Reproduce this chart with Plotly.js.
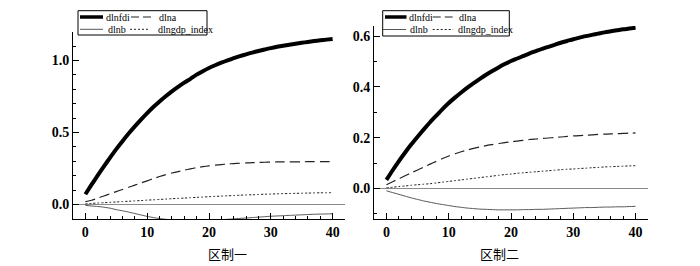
<!DOCTYPE html>
<html>
<head>
<meta charset="utf-8">
<script src="https://cdn.plot.ly/plotly-3.0.1.min.js"></script>
<style>html,body{margin:0;padding:0;background:#fff;}#chart{width:700px;height:266px;}</style>
</head>
<body>
<div id="chart"></div>
<script>
// ---- data ----
const periods = Array.from({length: 41}, (_, i) => i);
const seriesNames = ['dlnfdi', 'dlna', 'dlnb', 'dlngdp_index'];
const panelTitles = ['区制一', '区制二'];

// Regime 1
const r1_dlnfdi = [0.072,0.138,0.202,0.265,0.326,0.385,0.44,0.493,0.543,0.59,0.635,0.677,0.716,0.752,0.786,0.817,0.846,0.873,0.902,0.926,0.948,0.967,0.985,1.001,1.016,1.03,1.043,1.055,1.066,1.076,1.086,1.095,1.103,1.11,1.117,1.123,1.129,1.135,1.14,1.145,1.15];
const r1_dlna = [0.02,0.03,0.045,0.06,0.075,0.09,0.105,0.12,0.135,0.15,0.165,0.18,0.195,0.208,0.219,0.229,0.239,0.248,0.256,0.263,0.269,0.274,0.278,0.282,0.285,0.287,0.289,0.291,0.293,0.294,0.295,0.296,0.296,0.297,0.297,0.297,0.298,0.298,0.298,0.298,0.298];
const r1_dlnb = [-0.005,-0.01,-0.013,-0.018,-0.025,-0.035,-0.043,-0.052,-0.062,-0.072,-0.082,-0.09,-0.097,-0.102,-0.106,-0.108,-0.11,-0.11,-0.11,-0.109,-0.108,-0.106,-0.104,-0.102,-0.099,-0.096,-0.093,-0.09,-0.087,-0.084,-0.081,-0.079,-0.077,-0.075,-0.073,-0.071,-0.069,-0.067,-0.066,-0.065,-0.064];
const r1_dlngdp = [0.005,0.008,0.011,0.013,0.016,0.018,0.021,0.023,0.026,0.028,0.031,0.033,0.036,0.038,0.041,0.043,0.045,0.048,0.050,0.052,0.055,0.057,0.059,0.061,0.063,0.065,0.067,0.068,0.070,0.072,0.073,0.075,0.076,0.077,0.078,0.079,0.080,0.081,0.082,0.082,0.083];

// Regime 2
const r2_dlnfdi = [0.034,0.072,0.108,0.142,0.174,0.204,0.233,0.261,0.287,0.313,0.337,0.358,0.378,0.397,0.415,0.432,0.448,0.463,0.477,0.49,0.502,0.512,0.522,0.532,0.541,0.55,0.558,0.566,0.574,0.581,0.588,0.594,0.6,0.605,0.61,0.615,0.619,0.623,0.627,0.63,0.633];
const r2_dlna = [0.015,0.027,0.039,0.05,0.062,0.073,0.085,0.096,0.107,0.118,0.128,0.137,0.145,0.152,0.158,0.164,0.169,0.173,0.177,0.181,0.184,0.187,0.19,0.193,0.195,0.197,0.199,0.201,0.203,0.205,0.207,0.208,0.21,0.211,0.213,0.214,0.215,0.216,0.217,0.218,0.219];
const r2_dlnb = [-0.009,-0.016,-0.023,-0.03,-0.037,-0.043,-0.049,-0.054,-0.059,-0.063,-0.067,-0.071,-0.074,-0.077,-0.079,-0.081,-0.082,-0.083,-0.084,-0.084,-0.084,-0.084,-0.083,-0.083,-0.082,-0.082,-0.081,-0.08,-0.079,-0.078,-0.077,-0.076,-0.075,-0.075,-0.074,-0.073,-0.073,-0.072,-0.072,-0.071,-0.07];
const r2_dlngdp = [0.003,0.005,0.008,0.010,0.013,0.015,0.017,0.019,0.022,0.025,0.028,0.031,0.034,0.037,0.04,0.043,0.046,0.049,0.052,0.055,0.057,0.06,0.062,0.064,0.066,0.068,0.07,0.072,0.074,0.076,0.077,0.079,0.080,0.082,0.083,0.085,0.086,0.087,0.088,0.089,0.09];

// ---- styles ----
const W = 700, H = 266;
const SERIF = "'Liberation Serif', 'Times New Roman', Times, serif";
const styles = [
  {color: '#000', width: 4, dash: 'solid'},
  {color: '#222', width: 1.2, dash: '10px,5px'},
  {color: '#555', width: 1, dash: 'solid'},
  {color: '#222', width: 1, dash: '2px,2px'}
];
const regimes = [
  [r1_dlnfdi, r1_dlna, r1_dlnb, r1_dlngdp],
  [r2_dlnfdi, r2_dlna, r2_dlnb, r2_dlngdp]
];

const traces = [];
regimes.forEach((ser, p) => {
  ser.forEach((vals, k) => {
    traces.push({
      type: 'scatter', mode: 'lines', x: periods, y: vals, name: seriesNames[k],
      xaxis: p === 0 ? 'x' : 'x2', yaxis: p === 0 ? 'y' : 'y2',
      line: {color: styles[k].color, width: styles[k].width, dash: styles[k].dash, shape: 'spline', smoothing: 0.6},
      showlegend: false, hoverinfo: 'skip'
    });
  });
});

const px = v => v / W;
const py = v => 1 - v / H;

const tickFont = {family: SERIF, size: 14, color: '#000', weight: 'bold'};
const axBase = {
  showline: true, linecolor: '#000', linewidth: 1, mirror: false,
  ticks: 'inside', ticklen: 6, tickwidth: 1, tickcolor: '#000',
  showgrid: false, tickfont: tickFont, fixedrange: true
};

// manual legend boxes (layout positions in pixels)
const legendBoxes = [
  {x0: 78, x1: 207, y0: 10.7, y1: 35, r1: 17, r2: 29.3,
   samples: [[80,103],[131,151],[80,103],[130,148]], texts: [104,157,106,156]},
  {x0: 382.7, x1: 509.3, y0: 10.7, y1: 36, r1: 17, r2: 29.5,
   samples: [[385,406.5],[432.7,453],[383,406],[432.7,453]], texts: [407,457,408,456]}
];
const shapes = [];
const annotations = [];
const legFont = {family: SERIF, size: 10, color: '#000'};
legendBoxes.forEach(b => {
  shapes.push({type: 'rect', xref: 'paper', yref: 'paper', x0: px(b.x0), x1: px(b.x1), y0: py(b.y1), y1: py(b.y0),
    line: {color: '#000', width: 1}, fillcolor: 'rgba(0,0,0,0)'});
  seriesNames.forEach((nm, k) => {
    const row = (k < 2) ? b.r1 : b.r2;
    shapes.push({type: 'line', xref: 'paper', yref: 'paper', x0: px(b.samples[k][0]), x1: px(b.samples[k][1]), y0: py(row), y1: py(row),
      line: {color: styles[k].color, width: styles[k].width === 4 ? 3.5 : styles[k].width, dash: k === 1 ? '8px,4px' : styles[k].dash}});
    annotations.push({xref: 'paper', yref: 'paper', x: px(b.texts[k]), y: py(row), text: nm, showarrow: false,
      xanchor: 'left', yanchor: 'middle', font: legFont});
  });
});
const titleFont = {family: "'Noto Sans CJK SC', sans-serif", size: 13, color: '#000'};
annotations.push({xref: 'paper', yref: 'paper', x: px(227), y: py(253.5), text: panelTitles[0], showarrow: false, xanchor: 'center', yanchor: 'middle', font: titleFont});
annotations.push({xref: 'paper', yref: 'paper', x: px(499), y: py(253.5), text: panelTitles[1], showarrow: false, xanchor: 'center', yanchor: 'middle', font: titleFont});

const layout = {
  width: W, height: H,
  margin: {l: 0, r: 0, t: 0, b: 0},
  paper_bgcolor: '#fff', plot_bgcolor: '#fff',
  showlegend: false,
  xaxis: Object.assign({}, axBase, {domain: [px(73), px(345)], anchor: 'y', range: [-2, 42], tick0: 0, dtick: 10, zeroline: false,
    minor: {dtick: 2, tick0: 0, ticks: 'inside', ticklen: 3, tickcolor: '#000', tickwidth: 1}}),
  yaxis: Object.assign({}, axBase, {domain: [1 - 219 / H, 1 - 31.7 / H], anchor: 'x', range: [-0.1, 1.2], tick0: 0, dtick: 0.5, tickformat: '.1f',
    zeroline: true, zerolinecolor: '#8a8a8a', zerolinewidth: 1,
    minor: {dtick: 0.1, tick0: 0, ticks: 'inside', ticklen: 3, tickcolor: '#000', tickwidth: 1}}),
  xaxis2: Object.assign({}, axBase, {domain: [px(374), px(648)], anchor: 'y2', range: [-2, 42], tick0: 0, dtick: 10, zeroline: false,
    minor: {dtick: 2, tick0: 0, ticks: 'inside', ticklen: 3, tickcolor: '#000', tickwidth: 1}}),
  yaxis2: Object.assign({}, axBase, {domain: [1 - 219 / H, 1 - 26 / H], anchor: 'x2', range: [-0.12, 0.64], tick0: 0, dtick: 0.2, tickformat: '.1f',
    zeroline: true, zerolinecolor: '#8a8a8a', zerolinewidth: 1,
    minor: {dtick: 0.1, tick0: 0, ticks: 'inside', ticklen: 3, tickcolor: '#000', tickwidth: 1}}),
  shapes: shapes,
  annotations: annotations
};

Plotly.newPlot('chart', traces, layout, {staticPlot: true, displayModeBar: false});
</script>
</body>
</html>
